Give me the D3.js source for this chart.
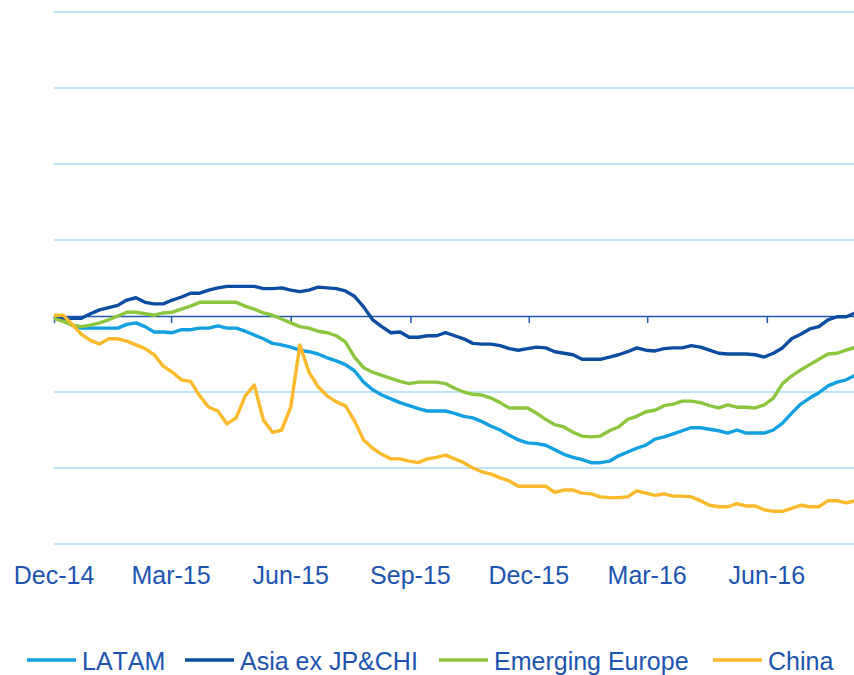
<!DOCTYPE html>
<html>
<head>
<meta charset="utf-8">
<script src="https://cdn.jsdelivr.net/npm/d3@7"></script>
<style>
  body { margin: 0; background: #fff; }
  svg { display: block; font-family: "Liberation Sans", Arial, sans-serif; font-kerning: none; }
</style>
</head>
<body>
<div id="chart"></div>
<script>
"use strict";

// weekly observations starting on the first Monday of Dec-14
var startDate = "2014-12-01";
var tickLabels = ["Dec-14", "Mar-15", "Jun-15", "Sep-15", "Dec-15", "Mar-16", "Jun-16"];
var seriesNames = ["LATAM", "Asia ex JP&CHI", "Emerging Europe", "China"];
var seriesColors = ["#12a0e0", "#0c4da2", "#8cc63e", "#fbb92c"];

var latam = [-0.1, -0.5, -1.2, -1.6, -1.6, -1.6, -1.6, -1.6, -1.1, -0.9, -1.4, -2.1, -2.1, -2.2, -1.8, -1.8, -1.6, -1.6, -1.3, -1.6,
  -1.6, -2.0, -2.5, -3.0, -3.6, -3.8, -4.1, -4.5, -4.7, -5.0, -5.5, -5.9, -6.4, -7.2, -8.7, -9.7, -10.4, -10.9, -11.4, -11.8,
  -12.2, -12.5, -12.5, -12.5, -12.8, -13.2, -13.4, -13.9, -14.5, -15.0, -15.7, -16.3, -16.7, -16.8, -17.0, -17.6, -18.2, -18.6, -18.9, -19.3,
  -19.3, -19.1, -18.4, -17.9, -17.4, -17.0, -16.2, -15.9, -15.5, -15.1, -14.7, -14.7, -14.9, -15.1, -15.4, -15.0, -15.4, -15.4, -15.4, -15.0,
  -14.1, -12.8, -11.6, -10.8, -10.1, -9.2, -8.7, -8.4, -7.8];
var asia = [-0.3, -0.3, -0.3, -0.3, 0.3, 0.8, 1.1, 1.4, 2.1, 2.4, 1.8, 1.6, 1.6, 2.1, 2.5, 3.0, 3.0, 3.4, 3.7, 3.9,
  3.9, 3.9, 3.9, 3.6, 3.6, 3.7, 3.4, 3.2, 3.4, 3.8, 3.7, 3.6, 3.3, 2.6, 1.2, -0.5, -1.4, -2.2, -2.1, -2.8,
  -2.8, -2.6, -2.6, -2.2, -2.6, -3.0, -3.6, -3.7, -3.7, -3.9, -4.3, -4.5, -4.3, -4.1, -4.2, -4.7, -4.9, -5.1, -5.7, -5.7,
  -5.7, -5.4, -5.1, -4.7, -4.2, -4.5, -4.6, -4.3, -4.2, -4.2, -3.9, -4.1, -4.5, -4.9, -5.0, -5.0, -5.0, -5.1, -5.4, -4.9,
  -4.2, -3.0, -2.4, -1.7, -1.4, -0.5, -0.1, -0.1, 0.4];
var emEurope = [-0.3, -0.7, -1.2, -1.4, -1.2, -0.9, -0.5, 0.0, 0.5, 0.5, 0.3, 0.1, 0.4, 0.5, 0.9, 1.3, 1.8, 1.8, 1.8, 1.8,
  1.8, 1.3, 0.9, 0.4, 0.1, -0.4, -0.9, -1.4, -1.6, -2.0, -2.2, -2.6, -3.4, -5.4, -6.8, -7.4, -7.8, -8.2, -8.6, -8.9,
  -8.7, -8.7, -8.7, -8.9, -9.5, -10.0, -10.3, -10.4, -10.8, -11.4, -12.1, -12.1, -12.1, -12.8, -13.6, -14.3, -14.6, -15.3, -15.8, -15.9,
  -15.8, -15.1, -14.6, -13.6, -13.2, -12.6, -12.4, -11.8, -11.6, -11.2, -11.2, -11.4, -11.8, -12.1, -11.7, -12.0, -12.0, -12.1, -11.7, -10.8,
  -8.9, -7.9, -7.1, -6.4, -5.7, -5.0, -4.9, -4.5, -4.1];
var china = [0.1, 0.1, -1.1, -2.4, -3.2, -3.7, -3.0, -3.0, -3.3, -3.8, -4.3, -5.1, -6.6, -7.4, -8.4, -8.6, -10.5, -12.0, -12.5, -14.2,
  -13.4, -10.5, -9.1, -13.7, -15.3, -15.0, -12.0, -3.8, -7.4, -9.3, -10.5, -11.3, -11.8, -13.8, -16.3, -17.4, -18.2, -18.8, -18.8, -19.1,
  -19.3, -18.8, -18.6, -18.3, -18.8, -19.3, -20.0, -20.5, -20.8, -21.3, -21.7, -22.4, -22.4, -22.4, -22.4, -23.2, -22.9, -22.9, -23.3, -23.4,
  -23.8, -23.9, -23.9, -23.8, -23.0, -23.3, -23.6, -23.4, -23.7, -23.7, -23.8, -24.3, -24.9, -25.1, -25.1, -24.7, -25.0, -25.0, -25.5, -25.7,
  -25.7, -25.3, -24.9, -25.1, -25.1, -24.3, -24.3, -24.6, -24.3];
var gridValues = [-30, -20, -10, 10, 20, 30, 40];

var width = 854, height = 675;
var margin = { left: 54, right: 0, top: 12, bottom: 131 };

var parseDay = d3.timeParse("%Y-%m-%d");
var parseTick = d3.timeParse("%b-%y");
var start = parseDay(startDate);
var dates = latam.map(function (d, i) { return d3.timeDay.offset(start, 7 * i); });
var tickDates = tickLabels.map(function (t) { return parseTick(t); });

var allSeries = [latam, asia, emEurope, china];

var svg = d3.select("#chart").append("svg")
  .attr("width", width)
  .attr("height", height);

var x = d3.scaleTime()
  .domain([start, parseDay("2016-08-07")])
  .range([margin.left, width - margin.right]);

var y = d3.scaleLinear()
  .domain([-30, 40])
  .range([height - margin.bottom, margin.top]);

// horizontal gridlines
svg.append("g")
  .attr("class", "grid")
  .selectAll("line")
  .data(gridValues)
  .enter().append("line")
  .attr("x1", margin.left)
  .attr("x2", width - margin.right)
  .attr("y1", function (d) { return y(d); })
  .attr("y2", function (d) { return y(d); })
  .attr("stroke", "#bde5f7")
  .attr("stroke-width", 2);

// category axis sits on the zero line
var xAxis = svg.append("g")
  .attr("transform", "translate(0," + y(0) + ")")
  .call(d3.axisBottom(x).tickValues(tickDates).tickSize(7).tickSizeOuter(0).tickFormat(""));
xAxis.select(".domain").attr("stroke", "#2156b0").attr("stroke-width", 1.5);
xAxis.selectAll(".tick line").attr("stroke", "#2156b0").attr("stroke-width", 1.5);

// tick labels along the bottom
svg.append("g")
  .selectAll("text")
  .data(tickDates)
  .enter().append("text")
  .attr("x", function (d) { return x(d); })
  .attr("y", 584)
  .attr("text-anchor", "middle")
  .attr("font-size", 25)
  .attr("fill", "#1c54b0")
  .text(function (d, i) { return tickLabels[i]; });

var line = d3.line()
  .x(function (d, i) { return x(dates[i]); })
  .y(function (d) { return y(d); });

svg.append("g")
  .selectAll("path")
  .data(allSeries)
  .enter().append("path")
  .attr("d", line)
  .attr("fill", "none")
  .attr("stroke", function (d, i) { return seriesColors[i]; })
  .attr("stroke-width", 3.4)
  .attr("stroke-linejoin", "round");

// legend
var legendX = [82, 240, 494, 768];
var legend = svg.append("g")
  .selectAll("g")
  .data(seriesNames)
  .enter().append("g")
  .attr("transform", function (d, i) { return "translate(" + legendX[i] + ",0)"; });

legend.append("line")
  .attr("x1", -55)
  .attr("x2", -6)
  .attr("y1", 660)
  .attr("y2", 660)
  .attr("stroke", function (d, i) { return seriesColors[i]; })
  .attr("stroke-width", 3.4);

legend.append("text")
  .attr("x", 0)
  .attr("y", 670)
  .attr("font-size", 25)
  .attr("fill", "#1c54b0")
  .text(function (d) { return d; });
</script>
</body>
</html>
